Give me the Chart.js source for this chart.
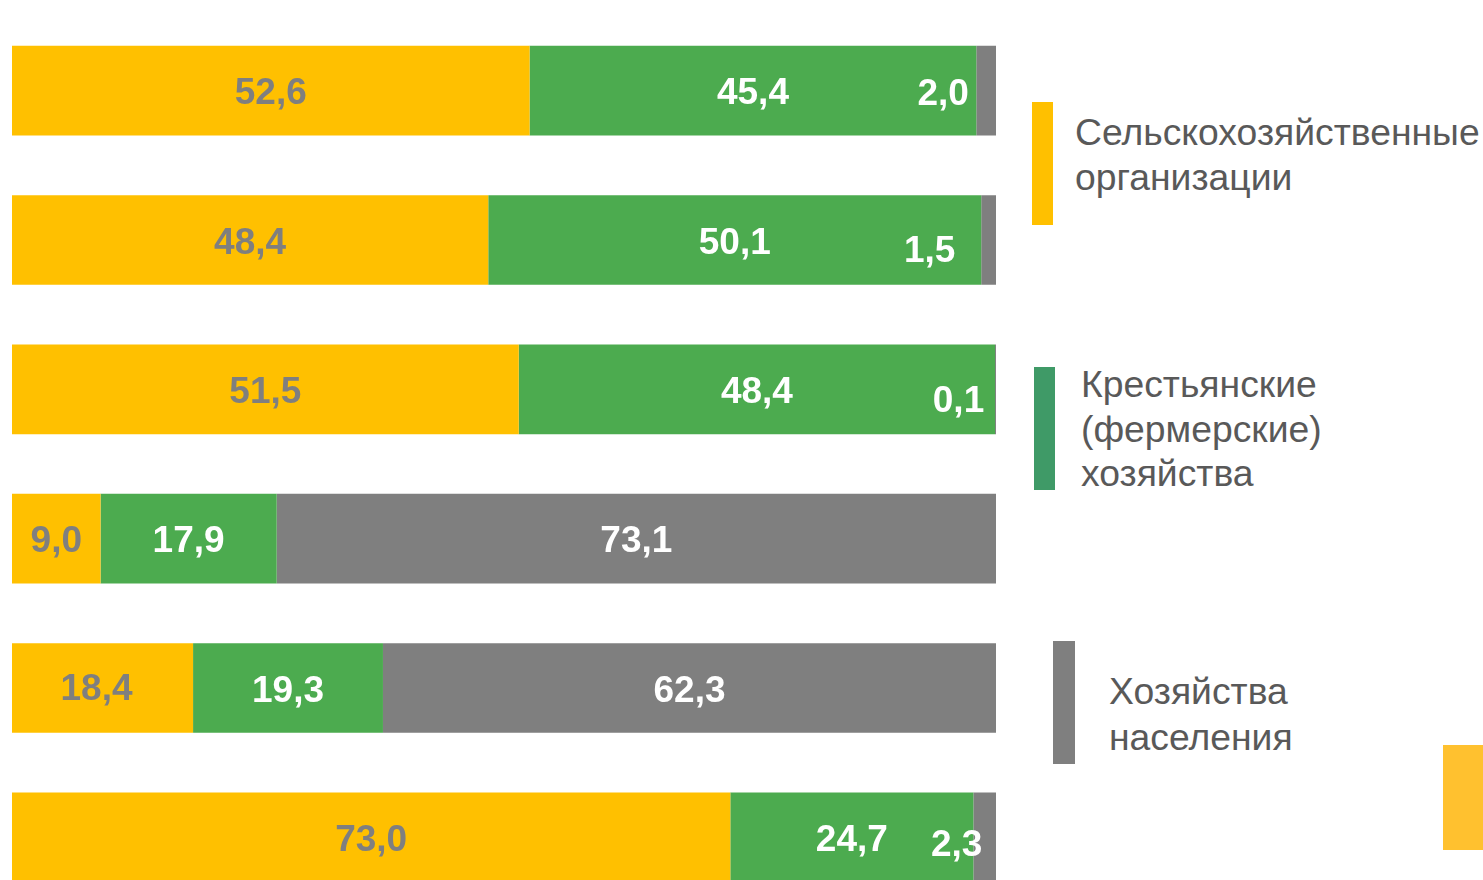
<!DOCTYPE html>
<html>
<head>
<meta charset="utf-8">
<script src="https://cdn.jsdelivr.net/npm/chart.js@4"></script>
<style>
  html, body { margin: 0; padding: 0; width: 1483px; height: 880px; overflow: hidden; background: #ffffff; }
  #wrap { position: absolute; left: 0; top: 0; width: 1000px; height: 915px; }
  .lg-bar { position: absolute; width: 21px; height: 123px; }
  .lg-text { position: absolute; font-family: "Liberation Sans", Arial, sans-serif; font-size: 37.3px; line-height: 45px; color: #595959; white-space: nowrap; }
  #corner { position: absolute; left: 1443px; top: 745px; width: 60px; height: 105px; background: #FFC12F; }
</style>
</head>
<body>
<div id="wrap"><canvas id="c"></canvas></div>

<div class="lg-bar" style="left:1032px; top:102px; background:#FFC000;"></div>
<div class="lg-text" style="left:1075px; top:110px;">Сельскохозяйственные<br>организации</div>

<div class="lg-bar" style="left:1034px; top:367px; background:#3F9A67;"></div>
<div class="lg-text" style="left:1081px; top:362px; line-height:44.5px;">Крестьянские<br>(фермерские)<br>хозяйства</div>

<div class="lg-bar" style="left:1053px; top:641px; width:22px; background:#7F7F7F;"></div>
<div class="lg-text" style="left:1109px; top:668px; line-height:46px;">Хозяйства<br>населения</div>

<div id="corner"></div>

<script>
// ---- data ----
const categories = ["1", "2", "3", "4", "5", "6"];
const seriesNames = ["Сельскохозяйственные организации", "Крестьянские (фермерские) хозяйства", "Хозяйства населения"];
const agriOrgs   = [52.6, 48.4, 51.5,  9.0, 18.4, 73.0];
const farms      = [45.4, 50.1, 48.4, 17.9, 19.3, 24.7];
const households = [ 2.0,  1.5,  0.1, 73.1, 62.3,  2.3];

// ---- styling (kept apart from data) ----
const colors = ["#FFC000", "#4CAB4F", "#7F7F7F"];
const labelColors = ["#7F7F7F", "#FFFFFF", "#FFFFFF"];
// manual label nudges (dataset-row): [dx, dy] in px
const labelNudge = {
  "2-0": [-43, 1], "2-1": [-59, 8], "2-2": [-37, 9], "2-5": [-28, 5],
  "0-4": [-6, -2]
};

const valueLabels = {
  id: "valueLabels",
  afterDatasetsDraw(chart) {
    const ctx = chart.ctx;
    ctx.save();
    ctx.font = "bold 37px 'Liberation Sans', Arial, sans-serif";
    ctx.textAlign = "center";
    ctx.textBaseline = "middle";
    chart.data.datasets.forEach((ds, di) => {
      const meta = chart.getDatasetMeta(di);
      meta.data.forEach((bar, i) => {
        const v = ds.data[i];
        const nudge = labelNudge[di + "-" + i] || [0, 0];
        const cx = (bar.x + bar.base) / 2 + nudge[0];
        const cy = bar.y + 3.5 + nudge[1];
        ctx.fillStyle = labelColors[di];
        ctx.fillText(v.toFixed(1).replace(".", ","), cx, cy);
      });
    });
    ctx.restore();
  }
};

new Chart(document.getElementById("c"), {
  type: "bar",
  data: {
    labels: categories,
    datasets: [
      { label: seriesNames[0], data: agriOrgs,   backgroundColor: colors[0] },
      { label: seriesNames[1], data: farms,      backgroundColor: colors[1] },
      { label: seriesNames[2], data: households, backgroundColor: colors[2] }
    ]
  },
  options: {
    indexAxis: "y",
    responsive: true,
    maintainAspectRatio: false,
    animation: false,
    barPercentage: 0.6,
    categoryPercentage: 1.0,
    layout: { padding: { left: 12, right: 4, top: 16, bottom: 3 } },
    plugins: { legend: { display: false }, tooltip: { enabled: false } },
    scales: {
      x: { stacked: true, min: 0, max: 100, display: false },
      y: { stacked: true, display: false }
    }
  },
  plugins: [valueLabels]
});
</script>
</body>
</html>
